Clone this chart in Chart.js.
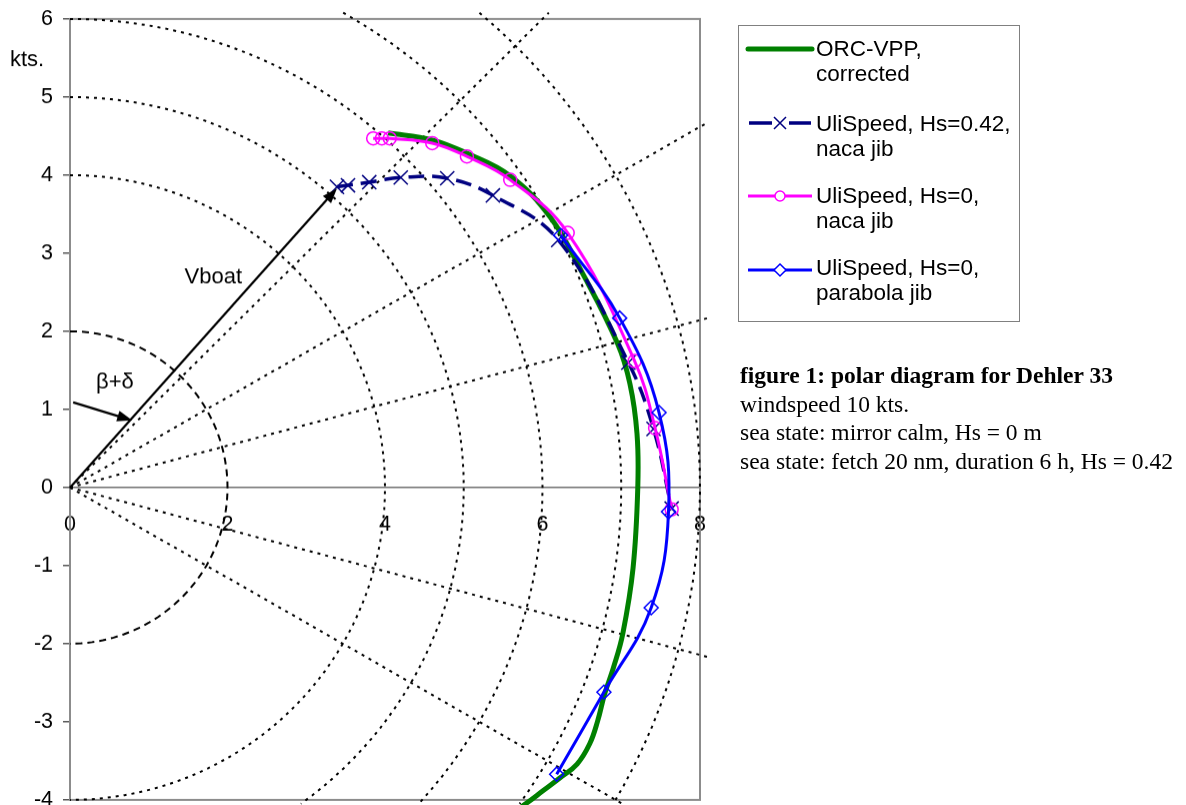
<!DOCTYPE html>
<html>
<head>
<meta charset="utf-8">
<title>polar diagram for Dehler 33</title>
<script src="https://cdn.jsdelivr.net/npm/chart.js@4.4.1/dist/chart.umd.min.js"></script>
<style>
  body { margin: 0; background: #fff; }
  #wrap { position: relative; width: 1186px; height: 805px; overflow: hidden; }
  #holder { position: absolute; left: 0; top: 0; width: 1186px; height: 805px; }
  #legend {
    position: absolute; left: 738px; top: 25px; width: 282px; height: 297px;
    border: 1.5px solid #808080; box-sizing: border-box;
    font-family: "Liberation Sans", Arial, sans-serif; font-size: 22.5px; color: #000;
  }
  #legend svg { position: absolute; left: 0; top: 0; }
  #legend .item { position: absolute; left: 77px; line-height: 25px; white-space: nowrap; }
  #caption {
    position: absolute; left: 740px; top: 361px;
    font-family: "Liberation Serif", "Times New Roman", serif; font-size: 23.5px;
    line-height: 28.5px; color: #000; white-space: nowrap;
  }
  #caption b { font-weight: bold; }
</style>
</head>
<body>
<div id="wrap">
  <div id="holder"><canvas id="polar"></canvas></div>
  <div id="legend">
    <svg width="80" height="295">
      <line x1="9" y1="23" x2="73" y2="23" stroke="#008000" stroke-width="5" stroke-linecap="round"/>
      <line x1="10" y1="97" x2="33" y2="97" stroke="#000080" stroke-width="3.5"/>
      <line x1="50" y1="97" x2="72" y2="97" stroke="#000080" stroke-width="3.5"/>
      <path d="M35 91 L47 103 M47 91 L35 103" stroke="#000080" stroke-width="1.5"/>
      <line x1="9" y1="170" x2="73" y2="170" stroke="#ff00ff" stroke-width="3"/>
      <circle cx="41" cy="170" r="5" fill="#fff" stroke="#ff00ff" stroke-width="1.5"/>
      <line x1="9" y1="244" x2="73" y2="244" stroke="#0000ff" stroke-width="3"/>
      <path d="M41 238 L47 244 L41 250 L35 244 Z" fill="#fff" stroke="#0000ff" stroke-width="1.5"/>
    </svg>
    <div class="item" style="top:10px">ORC-VPP,<br>corrected</div>
    <div class="item" style="top:85px">UliSpeed, Hs=0.42,<br>naca jib</div>
    <div class="item" style="top:157px">UliSpeed, Hs=0,<br>naca jib</div>
    <div class="item" style="top:229px">UliSpeed, Hs=0,<br>parabola jib</div>
  </div>
  <div id="caption">
    <b>figure 1: polar diagram for Dehler 33</b><br>
    windspeed 10 kts.<br>
    sea state: mirror calm, Hs = 0 m<br>
    sea state: fetch 20 nm, duration 6 h, Hs = 0.42
  </div>
</div>
<script>
// boat speed in kts, split into x / y components
const orcX = [4.04, 4.6, 5.04, 5.59, 6.1, 6.51, 6.95, 7.11, 7.2, 7.21, 7.15, 7.02, 6.9, 6.79, 6.7, 6.6, 6.44, 6.22, 6.01, 5.8, 5.7];
const orcY = [4.54, 4.45, 4.28, 3.99, 3.46, 2.74, 1.85, 1.33, 0.69, 0, -1.03, -1.87, -2.31, -2.64, -2.99, -3.28, -3.54, -3.72, -3.88, -4.04, -4.11];

const waveX = [3.39, 3.53, 3.8, 4.2, 4.79, 5.37, 6.2, 7.09, 7.41, 7.64];
const waveY = [3.85, 3.87, 3.91, 3.97, 3.96, 3.74, 3.17, 1.6, 0.75, -0.27];

const calmX = [3.85, 3.96, 4.06, 4.6, 5.04, 5.59, 6.32, 7.17, 7.43, 7.64];
const calmY = [4.47, 4.47, 4.47, 4.41, 4.24, 3.94, 3.26, 1.62, 0.76, -0.28];

const paraX = [6.23, 6.98, 7.48, 7.6, 7.38, 6.78, 6.18];
const paraY = [3.23, 2.17, 0.96, -0.31, -1.54, -2.62, -3.67];

// polar grid
const ringRadii = [2, 4, 5, 6, 7, 8];
const rayAngles = [45, 30, 15, -15, -30];

const xTicks = [0, 2, 4, 6, 8];
const yTicks = [-4, -3, -2, -1, 0, 1, 2, 3, 4, 5, 6];

// annotation arrows
const vboatArrow = [[0, 0], [3.39, 3.83]];
const angleArrow = [[0.04, 1.09], [0.79, 0.86]];

const xyPoints = (xs, ys) => xs.map((x, i) => ({ x: x, y: ys[i] }));

const TOP = 6.08, BOTTOM = -4.05, RIGHT = 8.1;
const rad = Math.PI / 180;

function ringPoints(r) {
  const aTop = r <= TOP ? 90 : Math.asin(TOP / r) / rad;
  const aBot = r <= -BOTTOM ? -90 : -Math.asin(-BOTTOM / r) / rad;
  const pts = [];
  for (let a = aTop; a > aBot; a -= 2) pts.push({ x: r * Math.cos(a * rad), y: r * Math.sin(a * rad) });
  pts.push({ x: r * Math.cos(aBot * rad), y: r * Math.sin(aBot * rad) });
  return pts;
}

function rayPoints(a) {
  const c = Math.cos(a * rad), s = Math.sin(a * rad);
  const r = Math.min(RIGHT / c, s > 0 ? TOP / s : BOTTOM / s);
  return [{ x: 0, y: 0 }, { x: r * c, y: r * s }];
}

const guides = [];
ringRadii.forEach(r => guides.push({
  data: ringPoints(r),
  borderColor: "#000",
  borderWidth: 2,
  borderDash: r == 2 ? [7, 5] : [3, 5],
  order: 10
}));
rayAngles.forEach(a => guides.push({
  data: rayPoints(a),
  borderColor: "#000",
  borderWidth: 2,
  borderDash: [3, 5],
  order: 10
}));

function arrow(ctx, x0, y0, x1, y1, len, half) {
  const ang = Math.atan2(y1 - y0, x1 - x0);
  const c = Math.cos(ang), s = Math.sin(ang);
  ctx.beginPath();
  ctx.moveTo(x0, y0);
  ctx.lineTo(x1 - c * len * 0.8, y1 - s * len * 0.8);
  ctx.stroke();
  ctx.beginPath();
  ctx.moveTo(x1, y1);
  ctx.lineTo(x1 - len * c + half * s, y1 - len * s - half * c);
  ctx.lineTo(x1 - len * c - half * s, y1 - len * s + half * c);
  ctx.closePath();
  ctx.fill();
}

const extras = {
  id: "extras",
  beforeDatasetsDraw(chart) {
    const { ctx, chartArea: a } = chart;
    ctx.save();
    ctx.strokeStyle = "#8c8c8c";
    ctx.lineWidth = 2;
    ctx.strokeRect(a.left, a.top, a.right - a.left, a.bottom - a.top);
    ctx.restore();
  },
  afterDatasetsDraw(chart) {
    const { ctx, chartArea: a, scales: { x, y } } = chart;
    ctx.save();
    ctx.strokeStyle = "#000";
    ctx.fillStyle = "#000";
    ctx.lineWidth = 2.2;
    arrow(ctx, x.getPixelForValue(vboatArrow[0][0]), y.getPixelForValue(vboatArrow[0][1]),
      x.getPixelForValue(vboatArrow[1][0]), y.getPixelForValue(vboatArrow[1][1]), 15, 5.5);
    arrow(ctx, x.getPixelForValue(angleArrow[0][0]), y.getPixelForValue(angleArrow[0][1]),
      x.getPixelForValue(angleArrow[1][0]), y.getPixelForValue(angleArrow[1][1]), 15, 5.5);

    ctx.font = '22px "Liberation Sans", Arial, sans-serif';
    ctx.textAlign = "center";
    ctx.textBaseline = "middle";
    ctx.fillText("Vboat", x.getPixelForValue(1.82), y.getPixelForValue(2.69));
    ctx.fillText("β+δ", x.getPixelForValue(0.57), y.getPixelForValue(1.35));
    ctx.textAlign = "left";
    ctx.fillText("kts.", a.left - 60, y.getPixelForValue(5.47));
    ctx.restore();
  }
};

Chart.defaults.font.family = '"Liberation Sans", Arial, sans-serif';
Chart.defaults.font.size = 21.5;
Chart.defaults.color = "#000";

const chart = new Chart(document.getElementById("polar"), {
  type: "scatter",
  data: {
    datasets: [
      {
        label: "UliSpeed, Hs=0, parabola jib",
        data: xyPoints(paraX, paraY),
        borderColor: "#0000ff",
        borderWidth: 3,
        tension: 0.4,
        pointStyle: "rectRot",
        pointRadius: 7,
        pointBorderWidth: 1.5,
        pointBackgroundColor: "rgba(0,0,0,0)",
        order: 1
      },
      {
        label: "UliSpeed, Hs=0, naca jib",
        data: xyPoints(calmX, calmY),
        borderColor: "#ff00ff",
        borderWidth: 3,
        tension: 0.4,
        pointStyle: "circle",
        pointRadius: 6.5,
        pointBorderWidth: 1.5,
        pointBackgroundColor: "rgba(0,0,0,0)",
        order: 2
      },
      {
        label: "UliSpeed, Hs=0.42, naca jib",
        data: xyPoints(waveX, waveY),
        borderColor: "#000080",
        borderWidth: 3.5,
        borderDash: [16, 8],
        tension: 0.4,
        pointStyle: "crossRot",
        pointRadius: 10,
        pointBorderWidth: 1.5,
        order: 3
      },
      {
        label: "ORC-VPP, corrected",
        data: xyPoints(orcX, orcY),
        borderColor: "#008000",
        borderWidth: 5,
        tension: 0.4,
        pointRadius: 0,
        order: 4
      },
      ...guides.map(g => Object.assign({ pointRadius: 0, tension: 0 }, g))
    ].map(d => Object.assign({ showLine: true, fill: false, clip: 10 }, d))
  },
  options: {
    responsive: true,
    maintainAspectRatio: false,
    animation: false,
    events: [],
    layout: { padding: { top: 19, right: 486, bottom: 6, left: 0 } },
    plugins: { legend: { display: false }, tooltip: { enabled: false } },
    scales: {
      x: {
        type: "linear",
        position: { y: 0 },
        min: 0,
        max: 8,
        afterBuildTicks: s => { s.ticks = xTicks.map(v => ({ value: v })); },
        afterFit: s => { s.paddingLeft = 0; s.paddingRight = 0; },
        grid: { display: false },
        border: { display: true, color: "#707070", width: 1.5 },
        ticks: { padding: 16, maxRotation: 0 }
      },
      y: {
        type: "linear",
        position: "left",
        min: -4,
        max: 6,
        afterBuildTicks: s => { s.ticks = yTicks.map(v => ({ value: v })); },
        afterFit: s => { s.width = 70; },
        grid: { display: true, drawOnChartArea: false, drawTicks: true, tickLength: 7, color: "#595959", lineWidth: 1.5 },
        border: { display: true, color: "#595959", width: 2 },
        ticks: { padding: 10 }
      }
    }
  },
  plugins: [extras]
});

// the plot frame should run from y = 19 to y = 799 on the page;
// move / stretch the canvas holder until the layout lands there
const holder = document.getElementById("holder");
let holderTop = 0, holderHeight = 805;
for (let i = 0; i < 4; i++) {
  const top = holderTop + chart.chartArea.top;
  const bottom = holderTop + chart.chartArea.bottom;
  const dTop = 19 - top, dBottom = 799 - bottom;
  if (Math.abs(dTop) < 0.5 && Math.abs(dBottom) < 0.5) break;
  holderTop += dTop;
  holderHeight += dBottom - dTop;
  holder.style.top = holderTop + "px";
  holder.style.height = holderHeight + "px";
  chart.resize();
}
</script>
</body>
</html>
